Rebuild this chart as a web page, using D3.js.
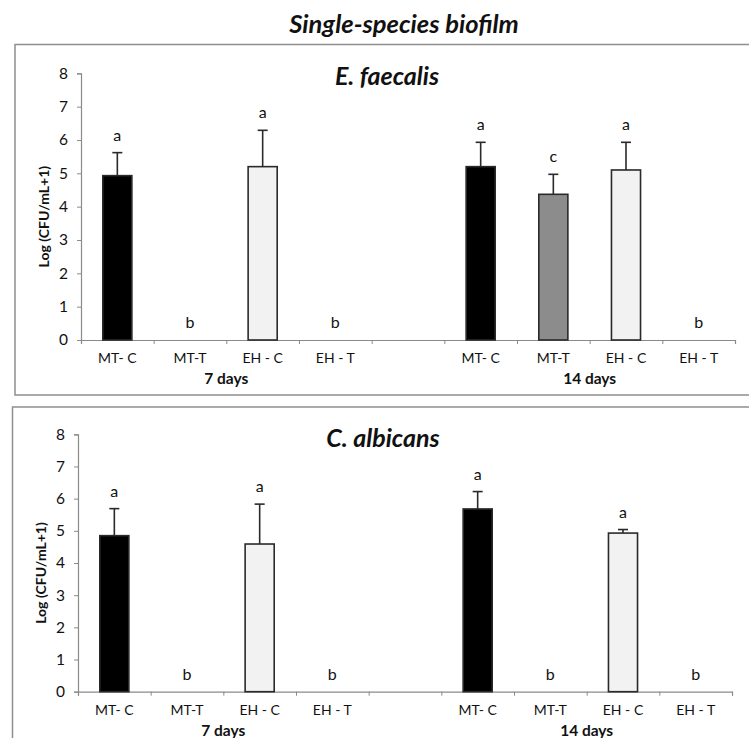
<!DOCTYPE html>
<html>
<head>
<meta charset="utf-8">
<script src="https://cdn.jsdelivr.net/npm/d3@7"></script>
<style>
  html, body { margin: 0; padding: 0; background: #fff; }
  svg { display: block; }
  text { font-family: Lato, "Open Sans", sans-serif; fill: #111; }
</style>
</head>
<body>
<div id="chart"></div>
<script>
// ---- data ----
const categories = ["MT- C", "MT-T", "EH - C", "EH - T", "", "MT- C", "MT-T", "EH - C", "EH - T"];
const groupLabels = ["7 days", "14 days"];
const yTicks = [0, 1, 2, 3, 4, 5, 6, 7, 8];

const efMeans   = [4.93, 0, 5.20, 0, null, 5.20, 4.37, 5.10, 0];
const efErrors  = [0.69, 0, 1.09, 0, null, 0.73, 0.60, 0.83, 0];
const efLetters = ["a", "b", "a", "b", "", "a", "c", "a", "b"];

const caMeans   = [4.85, 0, 4.59, 0, null, 5.68, 0, 4.93, 0];
const caErrors  = [0.84, 0, 1.24, 0, null, 0.54, 0, 0.11, 0];
const caLetters = ["a", "b", "a", "b", "", "a", "b", "a", "b"];

const barFills = ["#000000", "#8c8c8c", "#f2f2f2", "#ffffff", "none", "#000000", "#8c8c8c", "#f2f2f2", "#ffffff"];

const W = 749, H = 738;
const svg = d3.select("#chart").append("svg").attr("width", W).attr("height", H);

svg.append("text").attr("x", 404).attr("y", 33).attr("text-anchor", "middle")
  .style("font-size", "25.5px").style("font-weight", "bold").style("font-style", "italic")
  .text("Single-species biofilm");

function panel(cfg) {
  const g = svg.append("g");
  g.append("rect").attr("x", cfg.box[0]).attr("y", cfg.box[1]).attr("width", cfg.box[2]).attr("height", cfg.box[3])
    .attr("fill", "none").attr("stroke", "#8f8f8f").attr("stroke-width", 1.5);

  const x = d3.scaleBand().domain(d3.range(categories.length)).range([cfg.x0, cfg.x1]).paddingInner(0).paddingOuter(0);
  const xb = d3.scaleLinear().domain([0, categories.length]).range([cfg.x0, cfg.x1]);
  const y = d3.scaleLinear().domain([0, 8]).range([cfg.y0, cfg.y8]);

  // title
  g.append("text").attr("x", cfg.titleX).attr("y", cfg.titleY).attr("text-anchor", "middle")
    .style("font-size", "25px").style("font-weight", "bold").style("font-style", "italic").text(cfg.title);

  // y axis
  const ya = g.append("g").attr("transform", `translate(${cfg.x0},0)`)
    .call(d3.axisLeft(y).tickValues(yTicks).tickSize(4).tickPadding(9).tickFormat(d3.format("d")));
  ya.select(".domain").attr("stroke", "#8a8a8a").attr("stroke-width", 1.2);
  ya.selectAll(".tick line").attr("stroke", "#8a8a8a");
  ya.selectAll(".tick text").style("font-size", "15.5px").style("font-family", "Lato, sans-serif").attr("fill", "#111");

  // y label
  g.append("text").attr("transform", `translate(${cfg.yLabelX},${(cfg.y0 + cfg.y8) / 2 + 10}) rotate(-90)`)
    .attr("text-anchor", "middle").style("font-size", "14px").style("font-weight", "bold")
    .text("Log (CFU/mL+1)");

  // x axis: boundary ticks
  const xa = g.append("g").attr("transform", `translate(0,${cfg.y0})`)
    .call(d3.axisBottom(xb).tickValues(d3.range(categories.length + 1)).tickSize(4).tickFormat(""));
  xa.select(".domain").attr("stroke", "#8a8a8a").attr("stroke-width", 1.2);
  xa.selectAll(".tick line").attr("stroke", "#8a8a8a");

  // category labels
  const xl = g.append("g").attr("transform", `translate(0,${cfg.y0})`)
    .call(d3.axisBottom(x).tickSize(0).tickPadding(13).tickFormat(i => categories[i]));
  xl.select(".domain").remove();
  xl.selectAll(".tick text").style("font-size", "14px").style("font-family", "Lato, sans-serif").attr("fill", "#111");

  // group labels
  groupLabels.forEach((lab, k) => {
    g.append("text").attr("x", xb(k === 0 ? 2 : 7)).attr("y", cfg.y0 + cfg.groupDy).attr("text-anchor", "middle")
      .style("font-size", "15.5px").style("font-weight", "bold").text(lab);
  });

  const idx = d3.range(categories.length).filter(i => cfg.means[i] !== null);
  const bw = x.bandwidth() * 0.4;

  // bars
  g.selectAll("rect.bar").data(idx).join("rect").attr("class", "bar")
    .attr("x", i => x(i) + (x.bandwidth() - bw) / 2)
    .attr("width", bw)
    .attr("y", i => y(cfg.means[i]))
    .attr("height", i => y(0) - y(cfg.means[i]))
    .attr("fill", i => barFills[i])
    .attr("stroke", i => cfg.means[i] === 0 ? cfg.zeroStroke : "#2a2a2a")
    .attr("stroke-width", 1.6);

  // error bars
  const eb = idx.filter(i => cfg.errors[i] > 0);
  g.selectAll("line.err").data(eb).join("line").attr("class", "err")
    .attr("x1", i => x(i) + x.bandwidth() / 2).attr("x2", i => x(i) + x.bandwidth() / 2)
    .attr("y1", i => y(cfg.means[i])).attr("y2", i => y(cfg.means[i] + cfg.errors[i]))
    .attr("stroke", "#2a2a2a").attr("stroke-width", 1.6);
  g.selectAll("line.cap").data(eb).join("line").attr("class", "cap")
    .attr("x1", i => x(i) + x.bandwidth() / 2 - 5).attr("x2", i => x(i) + x.bandwidth() / 2 + 5)
    .attr("y1", i => y(cfg.means[i] + cfg.errors[i])).attr("y2", i => y(cfg.means[i] + cfg.errors[i]))
    .attr("stroke", "#2a2a2a").attr("stroke-width", 1.6);

  // letters
  g.selectAll("text.letter").data(idx).join("text").attr("class", "letter")
    .attr("x", i => x(i) + x.bandwidth() / 2)
    .attr("y", i => y(cfg.means[i] + cfg.errors[i]) - 12)
    .attr("text-anchor", "middle").style("font-size", "16px")
    .text(i => cfg.letters[i]);
}

panel({
  box: [15, 44.5, 760, 350.5], x0: 81, x1: 735, y0: 340, y8: 73.3,
  title: "E. faecalis", titleX: 387, titleY: 85, yLabelX: 49, groupDy: 44,
  means: efMeans, errors: efErrors, letters: efLetters, zeroStroke: "#bbbbbb"
});

panel({
  box: [12.5, 407, 760, 360], x0: 78, x1: 732, y0: 691.7, y8: 434.3,
  title: "C. albicans", titleX: 383, titleY: 447, yLabelX: 46, groupDy: 44,
  means: caMeans, errors: caErrors, letters: caLetters, zeroStroke: "none"
});
</script>
</body>
</html>
